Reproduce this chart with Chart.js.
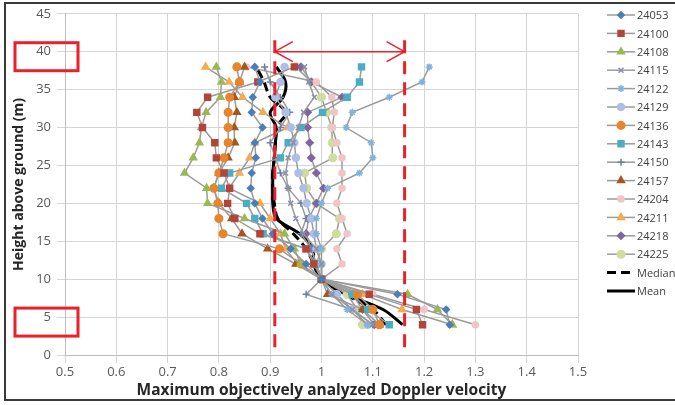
<!DOCTYPE html>
<html>
<head>
<meta charset="utf-8">
<script src="https://cdn.jsdelivr.net/npm/chart.js@4.4.1/dist/chart.umd.min.js"></script>
<style>
html, body { margin: 0; background: #fff; }
#wrap { width: 675px; height: 405px; position: relative; }
</style>
</head>
<body>
<div id="wrap"><canvas id="c"></canvas></div>
<script>
// heights (m) of each profile level
const heights = [4, 6, 8, 10, 12, 14, 16, 18, 20, 22, 24, 26, 28, 30, 32, 34, 36, 38];
const xTicks = [0.5, 0.6, 0.7, 0.8, 0.9, 1, 1.1, 1.2, 1.3, 1.4, 1.5];
const yTicks = [0, 5, 10, 15, 20, 25, 30, 35, 40, 45];

// normalized max Doppler velocity, one value per height
const s24053 = [1.25, 1.243, 1.148, 1.0, 0.97, 0.94, 0.905, 0.885, 0.87, 0.862, 0.864, 0.872, 0.87, 0.885, 0.864, 0.866, 0.88, 0.87];
const s24100 = [1.197, 1.185, 1.093, 1.0, 0.985, 0.97, 0.88, 0.831, 0.817, 0.821, 0.81, 0.795, 0.792, 0.768, 0.757, 0.778, 0.876, 0.947];
const s24108 = [1.255, 1.226, 1.168, 1.0, 0.96, 0.947, 0.928, 0.85, 0.778, 0.776, 0.733, 0.75, 0.762, 0.766, 0.775, 0.803, 0.805, 0.795];
const s24115 = [1.1, 1.06, 1.02, 1.0, 1.0, 0.99, 0.965, 0.95, 0.94, 0.935, 0.93, 0.935, 0.945, 0.955, 0.965, 0.986, 0.975, 0.967];
const s24122 = [1.09, 1.05, 1.02, 1.0, 1.0, 1.0, 0.99, 0.99, 1.0, 1.012, 1.074, 1.1, 1.097, 1.048, 1.06, 1.132, 1.196, 1.21];
const s24129 = [1.09, 1.06, 1.03, 1.0, 1.0, 0.99, 0.985, 0.98, 0.971, 0.965, 0.955, 0.95, 0.947, 0.94, 0.93, 0.91, 0.92, 0.928];
const s24136 = [1.113, 1.1, 1.07, 1.0, 0.96, 0.918, 0.808, 0.8, 0.798, 0.79, 0.8, 0.81, 0.818, 0.818, 0.818, 0.821, 0.84, 0.835];
const s24143 = [1.132, 1.09, 1.06, 1.0, 0.99, 0.97, 0.886, 0.87, 0.854, 0.805, 0.821, 0.92, 0.935, 0.96, 1.002, 1.05, 1.074, 1.078];
const s24150 = [1.1, 1.06, 0.97, 1.0, 0.99, 0.98, 0.96, 0.97, 0.96, 0.935, 0.92, 0.91, 0.9, 0.92, 0.938, 0.92, 0.9, 0.889];
const s24157 = [1.113, 1.08, 1.012, 1.0, 0.95, 0.895, 0.845, 0.825, 0.8, 0.79, 0.8, 0.818, 0.831, 0.83, 0.835, 0.83, 0.84, 0.85];
const s24204 = [1.3, 1.2, 1.1, 1.0, 1.04, 1.03, 1.05, 1.04, 1.03, 1.04, 1.04, 1.04, 1.03, 1.021, 1.025, 1.02, 0.99, 0.854];
const s24211 = [1.255, 1.157, 1.08, 1.0, 0.953, 0.93, 0.92, 0.9, 0.88, 0.82, 0.84, 0.86, 0.87, 0.934, 0.886, 0.846, 0.82, 0.774];
const s24218 = [1.103, 1.08, 1.06, 1.0, 0.99, 0.98, 0.97, 0.975, 0.99, 1.004, 0.99, 0.98, 0.977, 0.973, 0.973, 1.04, 0.98, 0.96];
const s24225 = [1.08, 1.07, 1.05, 1.0, 0.99, 1.0, 1.029, 1.035, 0.99, 0.971, 0.967, 1.022, 1.021, 1.02, 1.01, 1.0, 0.98, 0.95];
const median = [1.126, 1.10, 1.045, 1.0, 0.985, 0.97, 0.945, 0.915, 0.908, 0.905, 0.905, 0.908, 0.91, 0.912, 0.93, 0.9, 0.888, 0.873];
const mean = [1.158, 1.12, 1.048, 1.0, 0.985, 0.983, 0.957, 0.912, 0.905, 0.905, 0.905, 0.908, 0.91, 0.912, 0.9, 0.925, 0.93, 0.912];

const seriesNames = ['24053', '24100', '24108', '24115', '24122', '24129', '24136', '24143', '24150', '24157', '24204', '24211', '24218', '24225'];
const seriesValues = [s24053, s24100, s24108, s24115, s24122, s24129, s24136, s24143, s24150, s24157, s24204, s24211, s24218, s24225];

// red annotations (velocity band and highlighted tick labels)
const bandLimits = [0.909, 1.162];
const arrowHeight = 40;
const boxedTicks = [40, 5];

const markers = [
    { style: 'rectRot', color: '#4a7ebb', r: 3.2 },
    { style: 'rect', color: '#b3443a', r: 4.2 },
    { style: 'triangle', color: '#98b954', r: 4 },
    { style: 'crossRot', color: '#8a8fa8', r: 3.5 },
    { style: 'star', color: '#7fb2dc', r: 3.5 },
    { style: 'circle', color: '#aebfe6', r: 3.5 },
    { style: 'circle', color: '#e8842c', r: 3.8 },
    { style: 'rect', color: '#4bacc6', r: 4.2 },
    { style: 'cross', color: '#6d7f9e', r: 3.5 },
    { style: 'triangle', color: '#a5561e', r: 4 },
    { style: 'circle', color: '#f2c4c8', r: 3 },
    { style: 'triangle', color: '#f6ab4e', r: 4 },
    { style: 'rectRot', color: '#8064a2', r: 3.5 },
    { style: 'circle', color: '#cfdc9e', r: 3.8 }
];

const toPoints = vals => vals.map((v, i) => ({ x: v, y: heights[i] }));

const datasets = seriesValues.map((vals, i) => ({
    label: seriesNames[i],
    data: toPoints(vals),
    showLine: true,
    borderColor: '#9b9b9b',
    borderWidth: 1.5,
    pointStyle: markers[i].style,
    pointRadius: markers[i].r,
    pointBackgroundColor: markers[i].color,
    pointBorderColor: markers[i].color,
    pointBorderWidth: 1.5
}));
datasets.push({ label: 'Median', data: toPoints(median), showLine: true, borderColor: '#000', borderWidth: 3, borderDash: [9, 5], pointRadius: 0, tension: 0.35 });
datasets.push({ label: 'Mean', data: toPoints(mean), showLine: true, borderColor: '#000', borderWidth: 3, pointRadius: 0, tension: 0.35 });

const sideLegend = {
    id: 'sideLegend',
    afterDraw(chart) {
        const ctx = chart.ctx;
        ctx.save();
        chart.data.datasets.forEach((ds, i) => {
            const y = 15 + i * 18.4;
            ctx.beginPath();
            ctx.strokeStyle = ds.borderColor;
            ctx.lineWidth = ds.pointRadius ? 1.5 : 3;
            ctx.setLineDash(ds.borderDash || []);
            ctx.moveTo(607, y);
            ctx.lineTo(635, y);
            ctx.stroke();
            ctx.setLineDash([]);
            if (ds.pointRadius) {
                ctx.fillStyle = ds.pointBackgroundColor;
                ctx.strokeStyle = ds.pointBorderColor;
                ctx.lineWidth = 1.5;
                Chart.helpers.drawPoint(ctx, { pointStyle: ds.pointStyle, radius: ds.pointRadius, rotation: 0, borderWidth: 1.5 }, 621, y);
            }
            ctx.fillStyle = '#404040';
            ctx.font = '11px "Open Sans"';
            ctx.textBaseline = 'middle';
            ctx.fillText(ds.label, 637, y + 1);
        });
        // outer frame
        ctx.strokeStyle = '#3a3a3a';
        ctx.lineWidth = 2;
        ctx.strokeRect(5, 3, 700, 397);
        ctx.restore();
    }
};

const redMarks = {
    id: 'redMarks',
    afterDatasetsDraw(chart) {
        const { ctx, scales: { x, y } } = chart;
        ctx.save();
        ctx.strokeStyle = '#e8212b';
        ctx.lineWidth = 3;
        ctx.setLineDash([13, 8]);
        bandLimits.forEach(v => {
            ctx.beginPath();
            ctx.moveTo(x.getPixelForValue(v), y.getPixelForValue(41.5));
            ctx.lineTo(x.getPixelForValue(v), y.getPixelForValue(0));
            ctx.stroke();
        });
        ctx.setLineDash([]);
        const ay = y.getPixelForValue(arrowHeight);
        const x1 = x.getPixelForValue(bandLimits[0]), x2 = x.getPixelForValue(bandLimits[1]);
        ctx.lineWidth = 1.5;
        ctx.beginPath();
        ctx.moveTo(x1, ay); ctx.lineTo(x2, ay);
        ctx.moveTo(x1 + 18, ay - 10); ctx.lineTo(x1, ay); ctx.lineTo(x1 + 18, ay + 10);
        ctx.moveTo(x2 - 18, ay - 10); ctx.lineTo(x2, ay); ctx.lineTo(x2 - 18, ay + 10);
        ctx.stroke();
        ctx.lineWidth = 3;
        boxedTicks.forEach(t => {
            const ty = y.getPixelForValue(t);
            ctx.strokeRect(15, ty - 9, 63, 28);
        });
        ctx.restore();
    }
};

new Chart(document.getElementById('c'), {
    type: 'scatter',
    data: { datasets },
    options: {
        responsive: true,
        maintainAspectRatio: false,
        animation: false,
        layout: { padding: { left: 6, right: 97, top: 9, bottom: 5 } },
        plugins: { legend: { display: false }, tooltip: { enabled: false } },
        scales: {
            x: {
                min: 0.5, max: 1.5,
                afterBuildTicks: s => { s.ticks = xTicks.map(v => ({ value: v })); },
                afterFit: s => { s.height = 45; },
                grid: { color: '#d4d4d4', tickLength: 8 },
                border: { color: '#bdbdbd' },
                ticks: { color: '#595959', padding: 1, maxRotation: 0, font: { family: 'Open Sans', size: 13 }, callback: v => String(Math.round(v * 10) / 10) },
                title: { display: true, text: 'Maximum objectively analyzed Doppler velocity', color: '#262626', padding: 0, font: { family: 'Open Sans', size: 15.5, weight: 'bold' } }
            },
            y: {
                min: 0, max: 45,
                afterBuildTicks: s => { s.ticks = yTicks.map(v => ({ value: v })); },
                afterFit: s => { s.width = 59; },
                grid: { color: '#d4d4d4', tickLength: 8 },
                border: { color: '#bdbdbd' },
                ticks: { color: '#595959', padding: 6, font: { family: 'Open Sans', size: 13 } },
                title: { display: true, text: 'Height above ground (m)', color: '#262626', padding: { top: 5, bottom: 0 }, font: { family: 'Open Sans', size: 14, weight: 'bold' } }
            }
        }
    },
    plugins: [sideLegend, redMarks]
});
</script>
</body>
</html>
